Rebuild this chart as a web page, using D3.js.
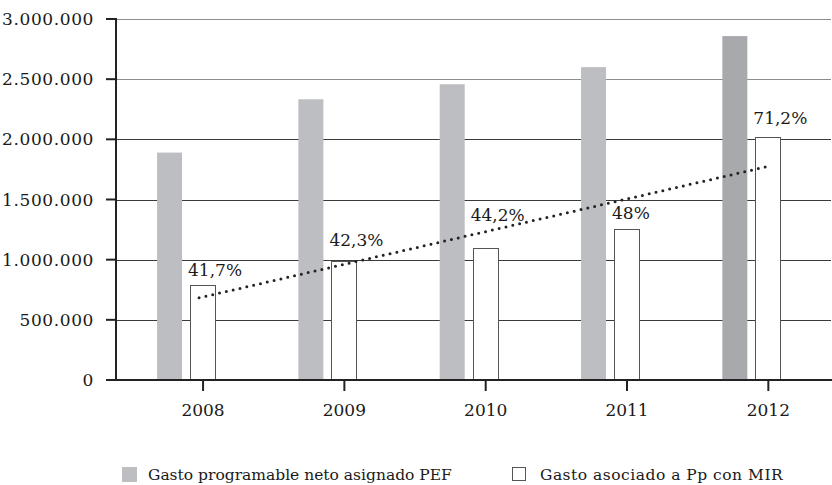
<!DOCTYPE html>
<html>
<head>
<meta charset="utf-8">
<script src="https://cdn.jsdelivr.net/npm/d3@7"></script>
<style>
  body { margin: 0; background: #fff; }
  svg text { font-family: "DejaVu Serif", serif; fill: #1a1a1a; }
</style>
</head>
<body>
<div id="chart"></div>
<script>
// data
const years      = ['2008', '2009', '2010', '2011', '2012'];
const gastoPEF   = [1890000, 2333000, 2458000, 2600000, 2858000];
const gastoMIR   = [789000, 986000, 1097000, 1253000, 2022000];
const pctLabels  = ['41,7%', '42,3%', '44,2%', '48%', '71,2%'];
const yTicks     = [0, 500000, 1000000, 1500000, 2000000, 2500000, 3000000];
const legendText = ['Gasto programable neto asignado PEF', 'Gasto asociado a Pp con MIR'];

// label lift above the white bar (px), as placed in the original
const LABEL_LIFT = [9, 15, 27, 10, 13];

const W = 832, H = 485;
const AXIS_X = 116, PLOT_R = 831;
const BAR_W = 25;

const fmt = v => d3.format(',')(v).replace(/,/g, '.');

const svg = d3.select('#chart').append('svg')
  .attr('width', W).attr('height', H);

const y = d3.scaleLinear().domain([0, 3000000]).range([380, 19]);
const x = d3.scaleBand().domain(years).range([132.4, 839]).padding(0);
const cx = d => x(d) + x.bandwidth() / 2;

// gridlines
svg.append('g').selectAll('line')
  .data(yTicks.filter(t => t > 0))
  .join('line')
    .attr('x1', AXIS_X).attr('x2', PLOT_R)
    .attr('y1', d => Math.round(y(d)) + 0.5).attr('y2', d => Math.round(y(d)) + 0.5)
    .attr('stroke', d => d > 2000000 ? '#8c8c8c' : '#3a3a3a')
    .attr('stroke-width', 1);

// gray bars (PEF)
svg.append('g').selectAll('rect')
  .data(years)
  .join('rect')
    .attr('x', d => cx(d) - 46)
    .attr('y', (d, i) => y(gastoPEF[i]))
    .attr('width', BAR_W)
    .attr('height', (d, i) => y(0) - y(gastoPEF[i]))
    .attr('fill', (d, i) => i === years.length - 1 ? '#a8a9ac' : '#bdbec1');

// white bars (MIR)
svg.append('g').selectAll('rect')
  .data(years)
  .join('rect')
    .attr('x', d => Math.round(cx(d) - 13) + 0.5)
    .attr('y', (d, i) => Math.round(y(gastoMIR[i])) + 0.5)
    .attr('width', BAR_W)
    .attr('height', (d, i) => Math.round(y(0) - y(gastoMIR[i])))
    .attr('fill', '#fff')
    .attr('stroke', '#555')
    .attr('stroke-width', 1);

// percent labels
svg.append('g').selectAll('text')
  .data(years)
  .join('text')
    .attr('x', d => cx(d) - 15)
    .attr('y', (d, i) => y(gastoMIR[i]) - LABEL_LIFT[i])
    .style('font-size', '17px')
    .text((d, i) => pctLabels[i]);

// linear trend through the white bars
const n = gastoMIR.length;
const mx = d3.mean(d3.range(n)), my = d3.mean(gastoMIR);
const slope = d3.sum(gastoMIR, (v, i) => (i - mx) * (v - my)) / d3.sum(d3.range(n), i => (i - mx) ** 2);
const icpt = my - slope * mx;
svg.append('line')
  .attr('x1', cx(years[0]) - 4).attr('y1', y(icpt))
  .attr('x2', cx(years[n - 1])).attr('y2', y(icpt + slope * (n - 1)))
  .attr('stroke', '#222')
  .attr('stroke-width', 3)
  .attr('stroke-linecap', 'round')
  .attr('stroke-dasharray', '0 7');

// y axis
const yAxis = svg.append('g');
yAxis.append('line')
  .attr('x1', AXIS_X).attr('x2', AXIS_X).attr('y1', 18).attr('y2', 381)
  .attr('stroke', '#222').attr('stroke-width', 2);
yAxis.selectAll('.tk').data(yTicks).join('line')
  .attr('class', 'tk')
  .attr('x1', 106).attr('x2', AXIS_X)
  .attr('y1', d => y(d)).attr('y2', d => y(d))
  .attr('stroke', '#222').attr('stroke-width', 2);
yAxis.selectAll('text').data(yTicks).join('text')
  .attr('x', 94)
  .attr('y', d => y(d) + 6)
  .attr('text-anchor', 'end')
  .style('font-size', '17px')
  .style('letter-spacing', '0.6px')
  .text(fmt);

// x axis
const xAxis = svg.append('g');
xAxis.append('line')
  .attr('x1', AXIS_X - 1).attr('x2', W).attr('y1', 380).attr('y2', 380)
  .attr('stroke', '#222').attr('stroke-width', 2);
xAxis.selectAll('.tk').data(years).join('line')
  .attr('class', 'tk')
  .attr('x1', cx).attr('x2', cx).attr('y1', 380).attr('y2', 391)
  .attr('stroke', '#222').attr('stroke-width', 2);
xAxis.selectAll('text').data(years).join('text')
  .attr('x', cx)
  .attr('y', 416)
  .attr('text-anchor', 'middle')
  .style('font-size', '17px')
  .text(d => d);

// legend
const lg = svg.append('g').attr('transform', 'translate(0,480)');
lg.append('rect').attr('x', 122).attr('y', -13).attr('width', 15).attr('height', 15)
  .attr('fill', '#bdbec1');
lg.append('text').attr('x', 148).attr('y', 0).style('font-size', '15.5px').text(legendText[0]);
lg.append('rect').attr('x', 512.5).attr('y', -12.5).attr('width', 13).attr('height', 13)
  .attr('fill', '#fff').attr('stroke', '#555');
lg.append('text').attr('x', 540).attr('y', 0).style('font-size', '15.5px')
  .style('letter-spacing', '0.5px').text(legendText[1]);
</script>
</body>
</html>
